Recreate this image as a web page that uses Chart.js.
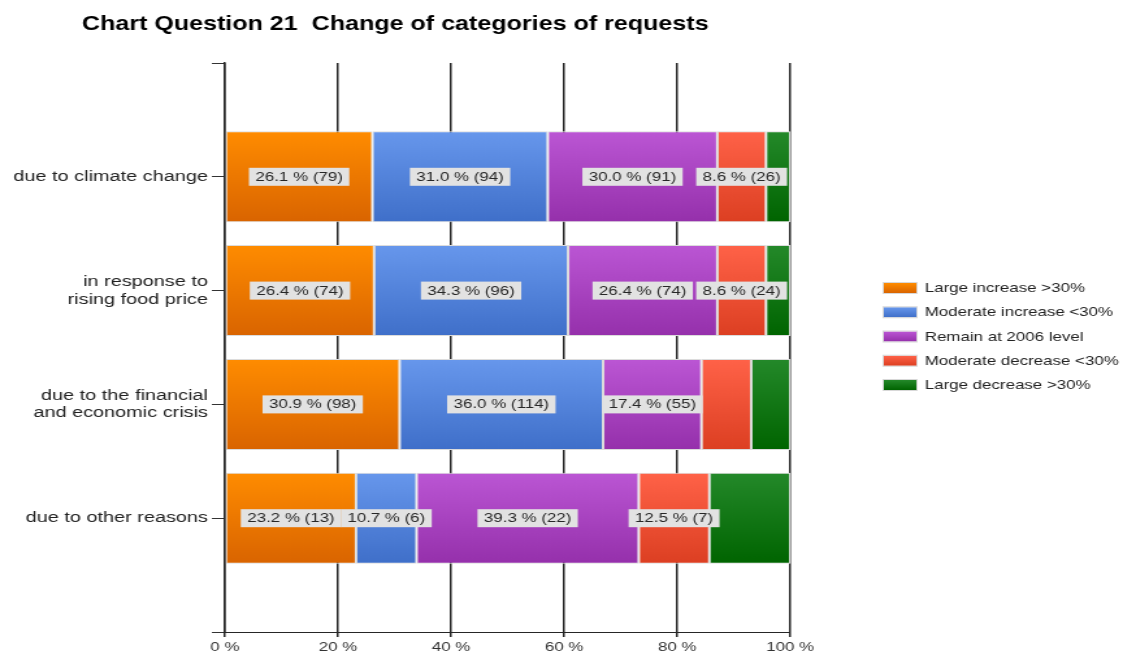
<!DOCTYPE html>
<html><head><meta charset="utf-8">
<script src="https://cdn.jsdelivr.net/npm/chart.js@4.4.0/dist/chart.umd.min.js"></script>
<style>html,body{margin:0;padding:0;background:#fff;overflow:hidden;width:1123px;height:655px}
#wrap{width:864px;height:655px;transform:scaleX(1.29977);transform-origin:0 0}
#c{display:block}</style></head>
<body><div id="wrap"><canvas id="c" width="864" height="655" style="width:864px;height:655px"></canvas></div>
<script>
const chartTitle = 'Chart Question 21  Change of categories of requests';
const categories = ['due to climate change', ['in response to', 'rising food price'], ['due to the financial', 'and economic crisis'], 'due to other reasons'];
const seriesNames = ['Large increase >30%', 'Moderate increase <30%', 'Remain at 2006 level', 'Moderate decrease <30%', 'Large decrease >30%'];
const largeIncrease = [26.1, 26.4, 30.9, 23.2];
const moderateIncrease = [31.0, 34.3, 36.0, 10.7];
const remainLevel = [30.0, 26.4, 17.4, 39.3];
const moderateDecrease = [8.6, 8.6, 8.8, 12.5];
const largeDecrease = [4.3, 4.3, 6.9, 14.3];
const largeIncreaseN = [79, 74, 98, 13];
const moderateIncreaseN = [94, 96, 114, 6];
const remainLevelN = [91, 74, 55, 22];
const moderateDecreaseN = [26, 24, null, 7];
const largeDecreaseN = [null, null, null, null];
const xTickValues = [0, 20, 40, 60, 80, 100];

const colorTop = ['#ff8c00', '#6797ec', '#bb56d4', '#ff6248', '#24892a'];
const colorBottom = ['#d96400', '#3f6fc9', '#9530ab', '#dc3f22', '#006400'];
const FONT = "'Liberation Sans', Arial, sans-serif";

const seriesValues = [largeIncrease, moderateIncrease, remainLevel, moderateDecrease, largeDecrease];
const seriesCounts = [largeIncreaseN, moderateIncreaseN, remainLevelN, moderateDecreaseN, largeDecreaseN];
const yLabels = [''].concat(categories, ['']);

function barGradient(i) {
  return (ctx) => {
    const chart = ctx.chart;
    if (!chart.chartArea || ctx.type !== 'data') return colorTop[i];
    const ys = chart.scales.y;
    const y = ys.getPixelForValue(ctx.dataIndex);
    const step = Math.abs(ys.getPixelForValue(1) - ys.getPixelForValue(0));
    const h = step * 0.8 / 2;
    const g = chart.ctx.createLinearGradient(0, y - h, 0, y + h);
    g.addColorStop(0, colorTop[i]);
    g.addColorStop(1, colorBottom[i]);
    return g;
  };
}

const datasets = seriesNames.map((name, i) => ({
  label: name,
  data: [null].concat(seriesValues[i], [null]),
  backgroundColor: barGradient(i),
  borderColor: '#dcdcdc',
  borderWidth: 1,
  borderSkipped: false,
  barPercentage: 1,
  categoryPercentage: 0.8
}));

const labelPlugin = {
  id: 'segLabels',
  afterDatasetsDraw(chart) {
    const ctx = chart.ctx;
    ctx.save();
    ctx.font = '13px ' + FONT;
    ctx.textAlign = 'center';
    ctx.textBaseline = 'middle';
    chart.data.datasets.forEach((ds, di) => {
      const meta = chart.getDatasetMeta(di);
      meta.data.forEach((el, idx) => {
        const k = idx - 1;
        if (k < 0 || k >= categories.length) return;
        const n = seriesCounts[di][k];
        if (n === null || n === undefined) return;
        const txt = seriesValues[di][k].toFixed(1) + ' % (' + n + ')';
        const cx = (el.x + el.base) / 2;
        const cy = el.y;
        const w = ctx.measureText(txt).width + 10;
        ctx.fillStyle = '#e2e2e2';
        ctx.fillRect(cx - w / 2, cy - 9, w, 18);
        ctx.fillStyle = '#262626';
        ctx.fillText(txt, cx, cy + 0.5);
      });
    });
    ctx.restore();
  }
};

const decorPlugin = {
  id: 'decor',
  afterDraw(chart) {
    const ctx = chart.ctx;
    ctx.save();
    ctx.fillStyle = '#000';
    ctx.font = 'bold 19.3px ' + FONT;
    ctx.textBaseline = 'middle';
    ctx.textAlign = 'left';
    ctx.fillText(chartTitle, 63, 25);
    ctx.font = '13px ' + FONT;
    seriesNames.forEach((name, i) => {
      const yc = 288 + i * 24.25;
      const g = ctx.createLinearGradient(0, yc - 5, 0, yc + 5);
      g.addColorStop(0, colorTop[i]);
      g.addColorStop(1, colorBottom[i]);
      ctx.fillStyle = g;
      ctx.fillRect(679, yc - 5, 26, 10);
      ctx.strokeStyle = '#d8d8d8';
      ctx.lineWidth = 1;
      ctx.strokeRect(679.5, yc - 5.5, 26, 11);
      ctx.fillStyle = '#222';
      ctx.fillText(name, 711.5, yc + 0.5);
    });
    ctx.restore();
  }
};

new Chart(document.getElementById('c'), {
  type: 'bar',
  data: { labels: yLabels, datasets },
  options: {
    indexAxis: 'y',
    responsive: false,
    animation: false,
    layout: { padding: { top: 63, right: 256, bottom: 0, left: 0 } },
    plugins: { legend: { display: false }, tooltip: { enabled: false }, title: { display: false } },
    scales: {
      x: {
        type: 'linear', stacked: true, min: 0, max: 100, position: 'bottom',
        afterBuildTicks: (s) => { s.ticks = xTickValues.map(v => ({ value: v })); },
        afterFit: (s) => { s.height = 23; },
        ticks: { callback: (v) => v + ' %', font: { family: FONT, size: 13 }, color: '#333', padding: 3, maxRotation: 0 },
        grid: { color: '#262626', lineWidth: 1.5, tickLength: 5 },
        border: { color: '#262626', width: 1 }
      },
      y: {
        type: 'category', stacked: true, offset: false,
        afterFit: (s) => { s.width = 173; },
        ticks: { font: { family: FONT, size: 15.3, lineHeight: 1.15 }, color: '#222', padding: 3, autoSkip: false },
        grid: { offset: false, drawOnChartArea: false, drawTicks: true, tickLength: 10, color: '#333', lineWidth: 1 },
        border: { display: true, color: '#262626', width: 1.5 }
      }
    }
  },
  plugins: [labelPlugin, decorPlugin]
});
</script>
</body></html>
